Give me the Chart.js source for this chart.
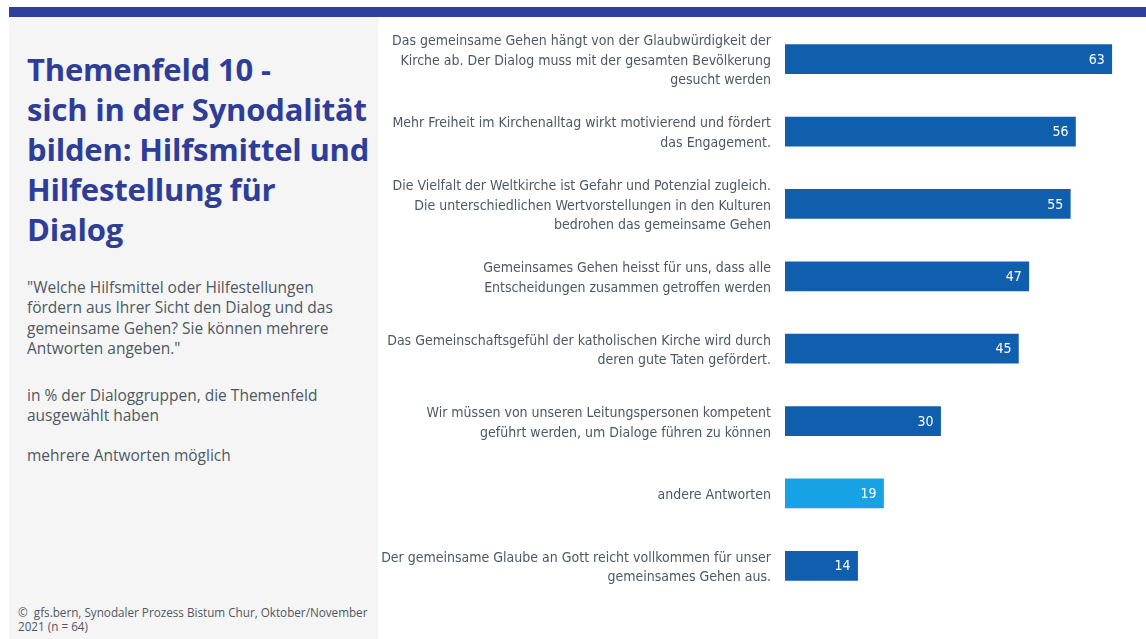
<!DOCTYPE html>
<html>
<head>
<meta charset="utf-8">
<script src="https://cdn.jsdelivr.net/npm/chart.js@4.4.1/dist/chart.umd.min.js"></script>
<style>
  html, body { margin: 0; padding: 0; background: #fff; }
  body { width: 1146px; height: 639px; position: relative; overflow: hidden; }
  .topbar { position: absolute; left: 9px; top: 7px; width: 1137px; height: 10px; background: #2E3F9C; }
  .side { position: absolute; left: 9px; top: 17px; width: 369px; height: 622px; background: #F5F5F5; }
  .side h1 {
    position: absolute; left: 18px; top: 32px; margin: 0; width: 360px; white-space: nowrap;
    font-family: 'Open Sans', sans-serif; font-weight: 700; font-size: 31px; line-height: 40px;
    color: #2E3E98; letter-spacing: -0.2px;
  }
  .side p {
    position: absolute; left: 18px; margin: 0; width: 345px;
    font-family: 'Open Sans', sans-serif; font-size: 15.5px; line-height: 20.3px; color: #4E5862;
  }
  .side .note {
    position: absolute; left: 9px; top: 589px; width: 360px;
    font-family: 'Open Sans', sans-serif; font-size: 11.7px; line-height: 13.5px; color: #4E5862;
  }
  #wrap { position: absolute; left: 380px; top: 17px; width: 766px; height: 622px; }
</style>
</head>
<body>
<div class="topbar"></div>
<div class="side">
  <h1>Themenfeld 10 -<br>sich in der Synodalität<br>bilden: Hilfsmittel und<br>Hilfestellung für<br>Dialog</h1>
  <p style="top:260px">"Welche Hilfsmittel oder Hilfestellungen fördern aus Ihrer Sicht den Dialog und das gemeinsame Gehen? Sie können mehrere Antworten angeben."</p>
  <p style="top:368px">in % der Dialoggruppen, die Themenfeld ausgewählt haben</p>
  <p style="top:428px">mehrere Antworten möglich</p>
  <div class="note">©&nbsp; gfs.bern, Synodaler Prozess Bistum Chur, Oktober/November 2021 (n = 64)</div>
</div>
<div id="wrap"><canvas id="chart"></canvas></div>

<script>
// answers, top to bottom (multi-line labels)
const labels = [
  ['Das gemeinsame Gehen hängt von der Glaubwürdigkeit der', 'Kirche ab. Der Dialog muss mit der gesamten Bevölkerung', 'gesucht werden'],
  ['Mehr Freiheit im Kirchenalltag wirkt motivierend und fördert', 'das Engagement.'],
  ['Die Vielfalt der Weltkirche ist Gefahr und Potenzial zugleich.', 'Die unterschiedlichen Wertvorstellungen in den Kulturen', 'bedrohen das gemeinsame Gehen'],
  ['Gemeinsames Gehen heisst für uns, dass alle', 'Entscheidungen zusammen getroffen werden'],
  ['Das Gemeinschaftsgefühl der katholischen Kirche wird durch', 'deren gute Taten gefördert.'],
  ['Wir müssen von unseren Leitungspersonen kompetent', 'geführt werden, um Dialoge führen zu können'],
  'andere Antworten',
  ['Der gemeinsame Glaube an Gott reicht vollkommen für unser', 'gemeinsames Gehen aus.']
]
const values = [63, 56, 55, 47, 45, 30, 19, 14]
const barColors = ['#0F5FAE', '#0F5FAE', '#0F5FAE', '#0F5FAE', '#0F5FAE', '#0F5FAE', '#17A2E6', '#0F5FAE']

const labelFont = "'DejaVu Sans Condensed', sans-serif"

// white value at the end of each bar
const valueLabels = {
  id: 'valueLabels',
  afterDatasetsDraw(chart){
    const ctx = chart.ctx
    const meta = chart.getDatasetMeta(0)
    ctx.save()
    ctx.fillStyle = '#fff'
    ctx.font = '14px ' + labelFont
    ctx.textAlign = 'right'
    ctx.textBaseline = 'middle'
    meta.data.forEach((bar, i) => {
      ctx.fillText(String(values[i]), bar.x - 7, bar.y + 1)
    })
    ctx.restore()
  }
}

new Chart(document.getElementById('chart'), {
  type: 'bar',
  data: {
    labels: labels,
    datasets: [{
      data: values,
      backgroundColor: barColors,
      barThickness: 29,
      borderWidth: 0
    }]
  },
  options: {
    indexAxis: 'y',
    responsive: true,
    maintainAspectRatio: false,
    animation: false,
    layout: { padding: { top: 6, bottom: 37, left: 0, right: 0 } },
    plugins: {
      legend: { display: false },
      tooltip: { enabled: false }
    },
    scales: {
      x: {
        display: false,
        min: 0,
        max: 69.6
      },
      y: {
        grid: { display: false, drawTicks: false },
        border: { display: false },
        ticks: {
          padding: 14,
          labelOffset: 2,
          color: '#4E5862',
          autoSkip: false,
          font: { family: labelFont, size: 14, lineHeight: 1.4 }
        },
        afterFit(scale){
          // fixed label column, no extra room above/below for label overflow
          scale.width = 405
          scale.paddingTop = 0
          scale.paddingBottom = 0
        }
      }
    }
  },
  plugins: [valueLabels]
})
</script>
</body>
</html>
